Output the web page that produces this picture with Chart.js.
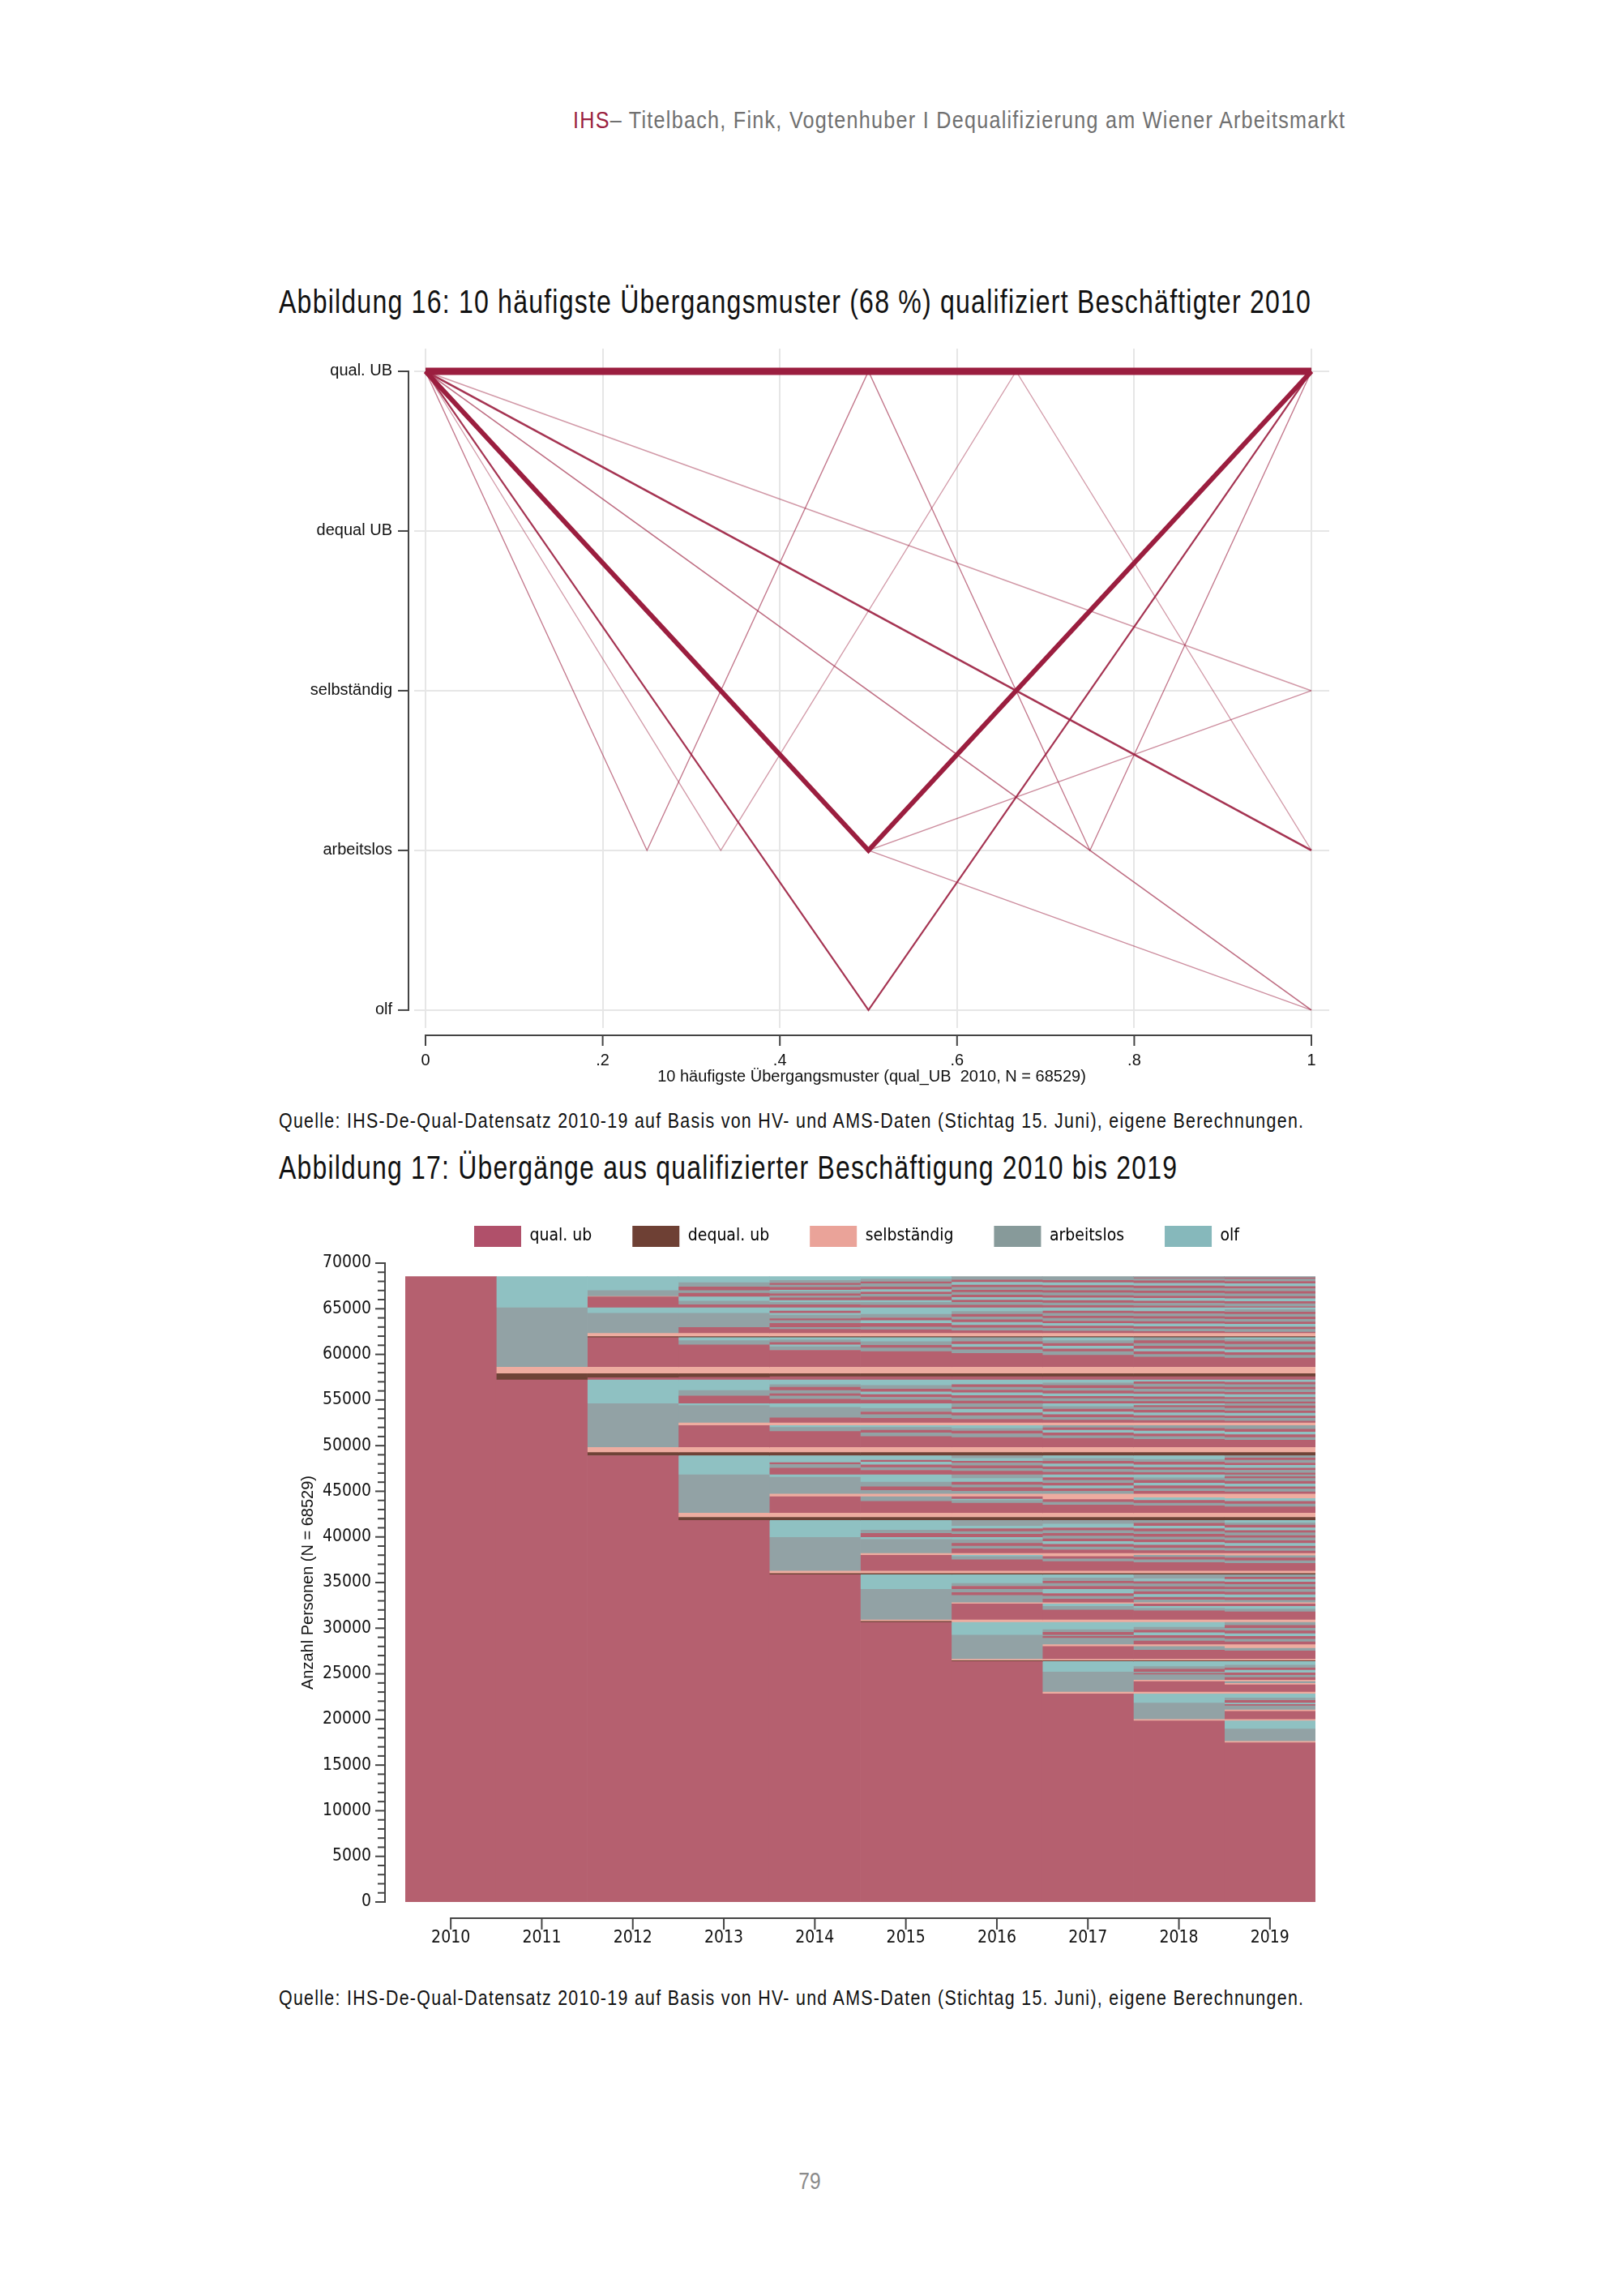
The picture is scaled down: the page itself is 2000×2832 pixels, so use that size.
<!DOCTYPE html>
<html><head><meta charset="utf-8">
<script src="https://cdn.jsdelivr.net/npm/chart.js"></script>
<style>
html,body{margin:0;padding:0;background:#fff;}
body{width:2000px;height:2832px;position:relative;overflow:hidden;}
.t{position:absolute;white-space:nowrap;font-family:"Liberation Sans",Arial,sans-serif;color:#111;transform-origin:left center;}
canvas{position:absolute;}
</style></head><body>
<div class="t fit" data-l="707" data-r="1660" style="top:131px;font-size:30px;line-height:34px;color:#707070"><span style="color:#9b1f40">IHS</span>– Titelbach, Fink, Vogtenhuber I Dequalifizierung am Wiener Arbeitsmarkt</div>
<div class="t fit" data-l="344" data-r="1618" style="top:348px;font-size:40px;line-height:48px">Abbildung 16: 10 häufigste Übergangsmuster (68 %) qualifiziert Beschäftigter 2010</div>
<canvas id="c1" width="1340" height="940" style="left:340px;top:420px;width:1340px;height:940px"></canvas>
<div class="t fit" data-l="344" data-r="1609" style="top:1367px;font-size:25px;line-height:30px">Quelle: IHS-De-Qual-Datensatz 2010-19 auf Basis von HV- und AMS-Daten (Stichtag 15. Juni), eigene Berechnungen.</div>
<div class="t fit" data-l="344" data-r="1453" style="top:1416px;font-size:40px;line-height:48px">Abbildung 17: Übergänge aus qualifizierter Beschäftigung 2010 bis 2019</div>
<canvas id="c2" width="1340" height="950" style="left:340px;top:1490px;width:1340px;height:950px"></canvas>
<div class="t fit" data-l="344" data-r="1609" style="top:2449px;font-size:25px;line-height:30px">Quelle: IHS-De-Qual-Datensatz 2010-19 auf Basis von HV- und AMS-Daten (Stichtag 15. Juni), eigene Berechnungen.</div>
<div class="t" style="left:1002px;top:2672px;font-size:30px;line-height:36px;color:#8a8a8a;transform:translateX(-50%) scaleX(0.82)">79</div>
<script>
// ================= DATA: Abbildung 16 =================
const stateLabelsUB = ['qual. UB', 'dequal UB', 'selbständig', 'arbeitslos', 'olf'];
const xTicks1 = [0, 0.2, 0.4, 0.6, 0.8, 1];
const xTickLabels1 = ['0', '.2', '.4', '.6', '.8', '1'];
// transition sequences (0 = qual. UB, 1 = dequal UB, 2 = selbständig, 3 = arbeitslos, 4 = olf)
const pat1 = [0, 0];
const pat2 = [0, 3, 0];
const pat3 = [0, 4, 0];
const pat4 = [0, 3];
const pat5 = [0, 2];
const pat6 = [0, 3, 0, 3, 0];
const pat7 = [0, 3, 0, 3];
const pat8 = [0, 3, 2];
const pat9 = [0, 3, 4];
const pat10 = [0, 4];

// ================= DATA: Abbildung 17 =================
const years = ['2010', '2011', '2012', '2013', '2014', '2015', '2016', '2017', '2018', '2019'];
const stateNames2 = ['qual. ub', 'dequal. ub', 'selbständig', 'arbeitslos', 'olf'];
const yTitle2 = 'Anzahl Personen (N = 68529)';
// each column: [state, upper cumulative count] from bottom to top
const seg2010 = [[0,68529]];
const seg2011 = [[0,57200],[1,57900],[2,58600],[3,65100],[4,68529]];
const seg2012 = [[0,48900],[1,49250],[2,49800],[3,54600],[4,57200],[0,57450],[1,57900],[2,58600],[0,61850],[1,61950],[2,62300],[3,64500],[4,65100],[0,66300],[2,66350],[3,67000],[4,68529]];
const seg2013 = [[0,41800],[1,42150],[2,42600],[3,46800],[4,48900],[1,49250],[2,49800],[0,52200],[2,52500],[3,54400],[4,54600],[0,55450],[3,56050],[4,57200],[0,57500],[1,57900],[2,58600],[0,61050],[3,61500],[4,61850],[1,61950],[2,62300],[0,62950],[3,64500],[4,65100],[0,65450],[3,65850],[4,66300],[0,66700],[3,67000],[0,67400],[3,67850],[4,68529]];
const seg2014 = [[0,35850],[1,36000],[2,36250],[3,39950],[4,41800],[1,42150],[2,42600],[0,44400],[2,44700],[3,46550],[4,46800],[0,47550],[3,47950],[0,48150],[4,48900],[1,49250],[2,49800],[0,51550],[3,52000],[4,52200],[2,52500],[0,53050],[3,54200],[4,54600],[0,55100],[3,55450],[0,55700],[3,56050],[0,56400],[3,56700],[4,57200],[0,57550],[1,57900],[2,58600],[0,60450],[3,60850],[4,61050],[0,61300],[3,61600],[4,61850],[1,61950],[2,62300],[0,62750],[3,62950],[0,63400],[3,63700],[0,63900],[3,64300],[4,64500],[0,64750],[4,65100],[0,65450],[3,65700],[4,65900],[0,66200],[3,66400],[0,66650],[3,66900],[4,67050],[0,67350],[3,67600],[0,67800],[3,68100],[4,68529]];
const seg2015 = [[0,30650],[1,30750],[2,30900],[3,34250],[4,35850],[1,36000],[2,36250],[0,38000],[2,38200],[3,39750],[4,39950],[0,40400],[3,40750],[4,41800],[1,42150],[2,42600],[0,43900],[3,44400],[2,44700],[3,45100],[0,45500],[3,46000],[4,46800],[0,47300],[3,47600],[0,47900],[4,48200],[0,48400],[4,48900],[1,49250],[2,49800],[0,51000],[3,51400],[0,51700],[3,52000],[4,52200],[2,52500],[0,53000],[3,53400],[0,53700],[3,54100],[4,54600],[0,55000],[3,55300],[0,55600],[4,55900],[0,56200],[3,56600],[4,57200],[0,57550],[1,57900],[2,58600],[0,60300],[3,60700],[0,61000],[3,61400],[4,61850],[1,61950],[2,62300],[0,62700],[3,63000],[0,63400],[4,63700],[0,64000],[3,64400],[4,65100],[0,65400],[3,65700],[4,65900],[0,66300],[3,66600],[0,66850],[4,67100],[0,67400],[3,67750],[0,67950],[3,68250],[4,68529]];
const seg2016 = [[0,26350],[1,26450],[2,26600],[3,29250],[4,30650],[2,30900],[0,32650],[2,32800],[3,33600],[0,33900],[3,34250],[0,34600],[3,34900],[4,35850],[1,36000],[2,36250],[0,37500],[3,37850],[4,38000],[2,38200],[0,38700],[3,39000],[0,39300],[3,39700],[4,39950],[0,40300],[3,40600],[0,40900],[4,41200],[3,41800],[1,42150],[2,42600],[0,43700],[3,44000],[4,44150],[0,44400],[2,44700],[3,45000],[0,45400],[3,45700],[0,46000],[4,46400],[3,46800],[0,47200],[3,47500],[0,47800],[3,48100],[0,48300],[4,48600],[3,48900],[1,49250],[2,49800],[0,50900],[3,51300],[0,51600],[3,51900],[4,52200],[2,52500],[0,52900],[3,53300],[0,53600],[4,54000],[0,54200],[3,54600],[0,54900],[3,55200],[0,55500],[4,55800],[0,56100],[3,56400],[0,56700],[4,57200],[0,57550],[1,57900],[2,58600],[0,60100],[3,60500],[0,60800],[4,61100],[0,61400],[3,61850],[1,61950],[2,62300],[0,62600],[3,62900],[0,63200],[4,63500],[0,63800],[3,64100],[0,64400],[3,64700],[4,65100],[0,65400],[3,65700],[0,65950],[4,66250],[0,66500],[3,66800],[0,67050],[3,67350],[0,67600],[4,67900],[0,68150],[3,68529]];
const seg2017 = [[0,22800],[2,23000],[3,25200],[4,26350],[1,26450],[2,26600],[0,28000],[2,28200],[3,28900],[0,29100],[3,29250],[0,29550],[3,29850],[4,30650],[2,30900],[0,32000],[3,32400],[4,32650],[2,32800],[0,33200],[3,33500],[0,33800],[4,34250],[0,34600],[3,34900],[0,35150],[3,35500],[4,35850],[1,36000],[2,36250],[0,37300],[3,37600],[0,37850],[2,38200],[0,38600],[3,38900],[0,39200],[4,39500],[0,39800],[3,40100],[0,40400],[3,40700],[0,41000],[4,41400],[3,41800],[1,42150],[2,42600],[0,43500],[3,43800],[0,44100],[2,44700],[3,45000],[0,45300],[4,45600],[0,45900],[3,46200],[0,46500],[4,46800],[0,47100],[3,47400],[0,47700],[4,48000],[0,48300],[3,48600],[4,48900],[1,49250],[2,49800],[0,50800],[3,51100],[0,51400],[4,51700],[0,51950],[3,52200],[2,52500],[0,52800],[3,53100],[0,53400],[4,53700],[0,54000],[3,54300],[4,54600],[0,54850],[3,55150],[0,55400],[4,55700],[0,56000],[3,56300],[0,56600],[3,56900],[4,57200],[0,57550],[1,57900],[2,58600],[0,59900],[3,60300],[0,60600],[4,60900],[0,61200],[3,61500],[4,61850],[1,61950],[2,62300],[0,62550],[3,62850],[0,63100],[4,63400],[0,63650],[3,63950],[0,64200],[3,64500],[0,64750],[4,65100],[0,65350],[3,65650],[0,65900],[4,66200],[0,66450],[3,66750],[0,67000],[3,67300],[0,67550],[4,67850],[0,68100],[3,68529]];
const seg2018 = [[0,19850],[2,20000],[3,21800],[4,22800],[2,23000],[0,24150],[2,24300],[3,24900],[0,25050],[3,25200],[0,25500],[3,25800],[4,26350],[1,26450],[2,26600],[0,27600],[3,28000],[2,28200],[0,28600],[3,28900],[0,29200],[4,29500],[0,29800],[3,30100],[4,30650],[2,30900],[0,31900],[3,32200],[4,32400],[0,32650],[2,32800],[3,33100],[0,33400],[4,33700],[0,34000],[3,34250],[0,34550],[3,34850],[0,35100],[4,35400],[3,35850],[1,36000],[2,36250],[0,37200],[3,37500],[0,37800],[3,38000],[2,38200],[0,38500],[3,38800],[0,39100],[4,39400],[0,39700],[3,40000],[0,40300],[3,40600],[0,40900],[4,41200],[0,41500],[3,41800],[1,42150],[2,42600],[0,43400],[3,43700],[0,44000],[4,44300],[2,44700],[0,45000],[3,45300],[0,45600],[4,45900],[0,46200],[3,46500],[4,46800],[0,47050],[3,47350],[0,47600],[4,47900],[0,48200],[3,48500],[4,48900],[1,49250],[2,49800],[0,50700],[3,51000],[0,51300],[4,51600],[0,51900],[3,52200],[2,52500],[0,52750],[3,53050],[0,53300],[4,53600],[0,53900],[3,54200],[0,54400],[4,54600],[0,54850],[3,55100],[0,55350],[4,55650],[0,55900],[3,56200],[0,56450],[3,56750],[0,57000],[4,57200],[0,57550],[1,57900],[2,58600],[0,59700],[3,60000],[0,60300],[4,60600],[0,60900],[3,61200],[0,61500],[3,61850],[1,61950],[2,62300],[0,62500],[3,62800],[0,63050],[4,63350],[0,63600],[3,63900],[0,64150],[3,64450],[0,64700],[4,65100],[0,65300],[3,65600],[0,65850],[4,66150],[0,66400],[3,66700],[0,66950],[3,67250],[0,67500],[4,67800],[0,68050],[3,68300],[0,68400],[3,68529]];
const seg2019 = [[0,17450],[2,17600],[3,18950],[4,19850],[2,20000],[0,20900],[2,21050],[3,21500],[0,21650],[4,21800],[0,22100],[3,22350],[4,22800],[2,23000],[0,23800],[2,23950],[3,24150],[2,24300],[0,24600],[3,24850],[0,25100],[4,25400],[0,25650],[3,25950],[4,26350],[1,26450],[2,26600],[0,27500],[3,27800],[2,28200],[0,28500],[3,28800],[0,29100],[4,29400],[0,29700],[3,30000],[0,30300],[3,30650],[2,30900],[0,31800],[3,32100],[4,32400],[0,32650],[2,32800],[3,33050],[0,33350],[4,33650],[0,33950],[3,34250],[0,34500],[3,34800],[0,35050],[4,35350],[0,35600],[3,35850],[1,36000],[2,36250],[0,37100],[3,37400],[0,37700],[3,37950],[2,38200],[0,38450],[3,38750],[0,39000],[4,39300],[0,39600],[3,39900],[0,40150],[3,40450],[0,40700],[4,41000],[0,41300],[3,41550],[4,41800],[1,42150],[2,42600],[0,43300],[3,43600],[0,43900],[4,44200],[2,44700],[0,44950],[3,45250],[0,45500],[4,45800],[0,46100],[3,46400],[0,46600],[3,46800],[0,47000],[3,47300],[0,47550],[4,47850],[0,48100],[3,48400],[0,48650],[3,48900],[1,49250],[2,49800],[0,50600],[3,50900],[0,51200],[4,51500],[0,51800],[3,52200],[2,52500],[0,52700],[3,53000],[0,53250],[4,53550],[0,53800],[3,54100],[0,54350],[3,54600],[0,54800],[3,55100],[0,55300],[4,55600],[0,55850],[3,56150],[0,56400],[3,56700],[0,56950],[4,57200],[0,57550],[1,57900],[2,58600],[0,59600],[3,59900],[0,60200],[4,60500],[0,60800],[3,61100],[0,61400],[3,61650],[4,61850],[1,61950],[2,62300],[0,62450],[3,62750],[0,63000],[4,63300],[0,63550],[3,63850],[0,64100],[3,64400],[0,64650],[3,64900],[4,65100],[0,65250],[3,65550],[0,65800],[4,66100],[0,66350],[3,66650],[0,66900],[3,67200],[0,67450],[4,67750],[0,68000],[3,68250],[0,68400],[3,68529]];

// ================= STYLES =================
const patterns = [pat1, pat2, pat3, pat4, pat5, pat6, pat7, pat8, pat9, pat10];
const patWidth = [9, 6, 2.2, 2.6, 1.6, 1.4, 1.3, 1.3, 1.3, 1.6];
const patAlpha = [1, 1, 0.9, 0.9, 0.45, 0.6, 0.45, 0.5, 0.5, 0.65];
const barColors = ['#b5606f', '#6f4337', '#eeaca0', '#92a2a5', '#8fc1c2'];
const legendColors = ['#b0506a', '#6e4034', '#eaa399', '#879a9a', '#86b8bb'];
const SANS = '"Liberation Sans", Arial, sans-serif';
const NARROW = '"DejaVu Sans Condensed", "Liberation Sans Narrow", sans-serif';

// fit HTML texts (narrow, tracked type) to their measured width
document.querySelectorAll('.fit').forEach(el => {
  const L = +el.dataset.l, R = +el.dataset.r;
  el.style.left = L + 'px';
  el.style.letterSpacing = '1.5px';
  const w = el.offsetWidth;
  el.style.transform = `scaleX(${(R - L) / w})`;
});

const zeroPad = s => { s.paddingTop = 0; s.paddingBottom = 0; s.paddingLeft = 0; s.paddingRight = 0; };

// Stata-like axes drawn from the library's scales
const stataAxes = {
  id: 'stataAxes',
  afterDraw(chart, args, o) {
    const {ctx, chartArea: ca, scales: {x, y}} = chart;
    ctx.save();
    ctx.strokeStyle = o.color; ctx.lineWidth = o.width; ctx.lineCap = 'butt';
    const seg = (x1, y1, x2, y2) => { ctx.beginPath(); ctx.moveTo(x1, y1); ctx.lineTo(x2, y2); ctx.stroke(); };
    const ax = ca.left - o.yGap;
    seg(ax, y.getPixelForValue(o.yFrom) + o.width / 2, ax, y.getPixelForValue(o.yTo) - o.width / 2);
    o.yMajor.forEach(v => { const p = y.getPixelForValue(v); seg(ax, p, ax - o.yTick, p); });
    (o.yMinor || []).forEach(v => { const p = y.getPixelForValue(v); seg(ax, p, ax - o.yMinorTick, p); });
    const ay = ca.bottom + o.xGap;
    seg(x.getPixelForValue(o.xFrom) - o.width / 2, ay, x.getPixelForValue(o.xTo) + o.width / 2, ay);
    o.xMajor.forEach(v => { const p = x.getPixelForValue(v); seg(p, ay, p, ay + o.xTick); });
    ctx.restore();
  }
};

// ================= CHART 1 =================
new Chart(document.getElementById('c1'), {
  type: 'scatter',
  plugins: [stataAxes],
  data: {
    datasets: patterns.map((seq, i) => ({
      data: seq.map((s, k) => ({x: k / (seq.length - 1), y: 5 - s})),
      showLine: true, pointRadius: 0, pointHoverRadius: 0,
      borderWidth: patWidth[i], borderColor: `rgba(155,30,63,${patAlpha[i]})`,
      tension: 0, borderJoinStyle: 'miter', fill: false
    }))
  },
  options: {
    responsive: false, animation: false, devicePixelRatio: 1, events: [],
    layout: {padding: {left: 0, right: 40, top: 10, bottom: 0}},
    plugins: {
      legend: {display: false}, tooltip: {enabled: false},
      stataAxes: {color: '#444', width: 2, yGap: 7, yFrom: 1, yTo: 5, yMajor: [1, 2, 3, 4, 5], yTick: 13,
        xGap: 9, xFrom: 0, xTo: 1, xMajor: xTicks1, xTick: 13}
    },
    scales: {
      x: {
        type: 'linear', min: -0.0128, max: 1.0201,
        afterBuildTicks: s => { s.ticks = xTicks1.map(v => ({value: v})); },
        afterFit: s => { s.height = 92; zeroPad(s); },
        grid: {color: '#e6e6e6', lineWidth: 2, drawTicks: false},
        border: {display: false},
        ticks: {padding: 28, color: '#111', font: {family: SANS, size: 20}, maxRotation: 0,
          callback: (v) => xTickLabels1[xTicks1.indexOf(v)]},
        title: {display: true, text: '10 häufigste Übergangsmuster (qual_UB  2010, N = 68529)',
          color: '#111', font: {family: SANS, size: 20}, padding: {top: 0, bottom: 20}}
      },
      y: {
        type: 'linear', min: 0.888, max: 5.142,
        afterBuildTicks: s => { s.ticks = [1, 2, 3, 4, 5].map(v => ({value: v})); },
        afterFit: s => { s.width = 171; zeroPad(s); },
        grid: {color: '#e6e6e6', lineWidth: 2, drawTicks: false},
        border: {display: false},
        ticks: {padding: 27, color: '#111', font: {family: SANS, size: 20},
          callback: (v) => stateLabelsUB[5 - v]}
      }
    }
  }
});

// ================= CHART 2 =================
const allSegs = [seg2010, seg2011, seg2012, seg2013, seg2014, seg2015, seg2016, seg2017, seg2018, seg2019];
const maxLen = Math.max(...allSegs.map(s => s.length));
const datasets2 = [];
for (let k = 0; k < maxLen; k++) {
  datasets2.push({
    data: allSegs.map(s => s[k] ? s[k][1] - (k ? s[k - 1][1] : 0) : null),
    backgroundColor: allSegs.map(s => s[k] ? barColors[s[k][0]] : 'rgba(0,0,0,0)'),
    borderWidth: 0, barPercentage: 1, categoryPercentage: 1, stack: 'seq'
  });
}
const legendShift = {
  id: 'legendShift',
  afterLayout(chart, args, o) {
    const lg = chart.legend; if (!lg) return;
    const pad = lg.options.labels.padding;
    const start = (lg.left + pad + lg.right - lg.lineWidths[0]) / 2;
    const dx = o.firstBoxX - start;
    const dy = o.boxTop - (lg.top + pad);
    lg.left += dx; lg.right += dx; lg.top += dy;
  }
};
const minor2 = [];
for (let v = 0; v <= 70000; v += 1000) if (v % 5000) minor2.push(v);
new Chart(document.getElementById('c2'), {
  type: 'bar',
  plugins: [stataAxes, legendShift],
  data: {labels: years, datasets: datasets2},
  options: {
    responsive: false, animation: false, devicePixelRatio: 1, events: [],
    layout: {padding: {left: 0, right: 57, top: 0, bottom: 0}},
    plugins: {
      tooltip: {enabled: false},
      legend: {
        display: true, position: 'top', maxHeight: 68,
        labels: {
          boxWidth: 58, boxHeight: 26, padding: 50, color: '#111',
          font: {family: NARROW, size: 21},
          generateLabels: () => stateNames2.map((n, i) => ({text: n, fillStyle: legendColors[i], strokeStyle: legendColors[i], lineWidth: 0, hidden: false}))
        }
      },
      legendShift: {firstBoxX: 245, boxTop: 22},
      stataAxes: {color: '#444', width: 2, yGap: 25, yFrom: 0, yTo: 70000,
        yMajor: [0, 5000, 10000, 15000, 20000, 25000, 30000, 35000, 40000, 45000, 50000, 55000, 60000, 65000, 70000],
        yTick: 12, yMinor: minor2, yMinorTick: 9,
        xGap: 20, xFrom: 0, xTo: 9, xMajor: [0, 1, 2, 3, 4, 5, 6, 7, 8, 9], xTick: 14}
    },
    scales: {
      x: {
        stacked: true,
        afterFit: s => { s.height = 94; zeroPad(s); },
        grid: {display: false, drawTicks: false}, border: {display: false},
        ticks: {padding: 32, color: '#111', font: {family: NARROW, size: 21}, maxRotation: 0}
      },
      y: {
        stacked: true, min: 0, max: 70000,
        afterFit: s => { s.width = 160; zeroPad(s); },
        grid: {display: false, drawTicks: false}, border: {display: false},
        ticks: {stepSize: 5000, padding: 42, color: '#111', font: {family: NARROW, size: 21},
          callback: v => String(v)},
        title: {display: true, text: yTitle2, color: '#111', font: {family: SANS, size: 20}, padding: {top: 28, bottom: 0}}
      }
    }
  }
});
</script>
</body></html>
